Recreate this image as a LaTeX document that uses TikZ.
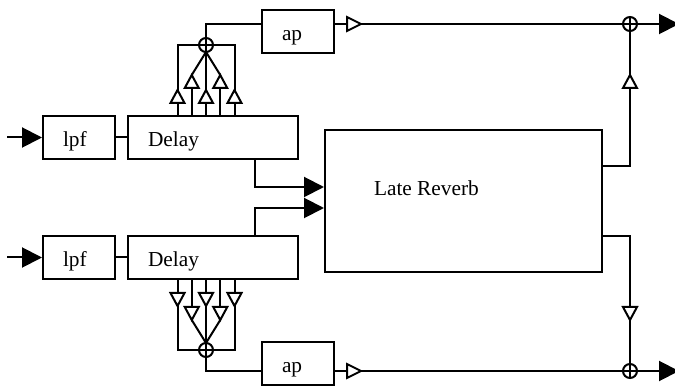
\documentclass[tikz,border=0pt]{standalone}
\usepackage{fontspec}
\setmainfont{Liberation Serif}
\usetikzlibrary{arrows.meta,shapes.geometric}

\tikzset{
  box/.style={draw, rectangle, inner xsep=15pt, inner ysep=0pt, align=left,
    text height=23.25pt, text depth=9pt},
  amp/.style={draw, isosceles triangle, isosceles triangle stretches,
    minimum width=10.5pt, minimum height=10.5pt, inner sep=0pt, outer sep=0pt},
  ampup/.style={amp, shape border rotate=90, minimum height=9.75pt, anchor=lower side},
  ampdown/.style={amp, shape border rotate=270, minimum height=9.75pt, anchor=lower side},
  ampright/.style={amp, anchor=lower side},
  sum/.style={draw, circle, minimum size=10.5pt, inner sep=0pt, outer sep=0pt,
    path picture={\draw (path picture bounding box.north) -- (path picture bounding box.south)
      (path picture bounding box.west) -- (path picture bounding box.east);}},
  feed/.style={-{Triangle[length=15pt,width=15pt]}},
}

\begin{document}
\begin{tikzpicture}[x=0.75pt, y=-0.75pt, line width=1.5pt,
  font=\fontsize{16pt}{19pt}\selectfont]
  \useasboundingbox (0,0) rectangle (675,388);

  % upper branch
  \coordinate (ina) at (7,137.5);
  \node[box, text width=24pt] (lpfa) at (79,137.5) {lpf};
  \node[box, text width=97.5pt] (dela) at (213,137.5) {Delay};
  \draw[feed] (ina) -- (lpfa);
  \draw (lpfa) -- (dela);

  % taps into the upper sum
  \node[sum] (suma) at (206,45) {};
  \foreach \i/\x/\b in {1/177.5/103, 2/191.75/88, 3/206/103, 4/220.25/88, 5/234.5/103}{
    \node[ampup] (ta\i) at (\x,\b) {};
    \draw (ta\i.lower side) -- (ta\i.lower side |- dela.north);
  }
  \draw (ta1.apex) |- (suma.center) -| (ta5.apex);
  \draw (ta3.apex) -- (suma.south);
  \draw (ta2.apex) -- (suma.south) -- (ta4.apex);

  \node[box, text width=24pt] (apa) at (298,31.5) {ap};
  \draw (suma.north) |- ([yshift=5.625pt]apa.west);
  \node[ampright] (ga) at (347,24) {};
  \draw ([yshift=5.625pt]apa.east) -- (ga.lower side);
  \node[sum] (outsa) at (630,24) {};
  \draw (ga.apex) -- (outsa.west);
  \coordinate (outa) at (679,24);
  \draw[feed] (outsa.east) -- (outa);

  % lower branch
  \coordinate (inb) at (7,257.5);
  \node[box, text width=24pt] (lpfb) at (79,257.5) {lpf};
  \node[box, text width=97.5pt] (delb) at (213,257.5) {Delay};
  \draw[feed] (inb) -- (lpfb);
  \draw (lpfb) -- (delb);

  % taps into the lower sum
  \node[sum] (sumb) at (206,350) {};
  \foreach \i/\x/\b in {1/177.5/293, 2/191.75/307, 3/206/293, 4/220.25/307, 5/234.5/293}{
    \node[ampdown] (tb\i) at (\x,\b) {};
    \draw (tb\i.lower side) -- (tb\i.lower side |- delb.south);
  }
  \draw (tb1.apex) |- (sumb.center) -| (tb5.apex);
  \draw (tb3.apex) -- (sumb.north);
  \draw (tb2.apex) -- (sumb.north) -- (tb4.apex);

  \node[box, text width=24pt] (apb) at (298,363.5) {ap};
  \draw (sumb.south) |- ([yshift=-5.625pt]apb.west);
  \node[ampright] (gb) at (347,371) {};
  \draw ([yshift=-5.625pt]apb.east) -- (gb.lower side);
  \node[sum] (outsb) at (630,371) {};
  \draw (gb.apex) -- (outsb.west);
  \coordinate (outb) at (679,371);
  \draw[feed] (outsb.east) -- (outb);

  % late reverb
  \node[draw, minimum width=207.75pt, minimum height=106.5pt] (lr) at (463.5,201) {};
  \node[anchor=base west, inner sep=0pt] (lrname) at (373,196) {Late Reverb};
  \draw[feed] ([xshift=31.5pt]dela.south) |- ([yshift=10.5pt]lr.west);
  \draw[feed] ([xshift=31.5pt]delb.north) |- ([yshift=-5.25pt]lr.west);

  \node[ampup] (gra) at (630,88) {};
  \draw ([yshift=26.25pt]lr.east) -| (gra.lower side);
  \draw (gra.apex) -- (outsa.south);
  \node[ampdown] (grb) at (630,307) {};
  \draw ([yshift=-26.25pt]lr.east) -| (grb.lower side);
  \draw (grb.apex) -- (outsb.north);
\end{tikzpicture}
\end{document}
